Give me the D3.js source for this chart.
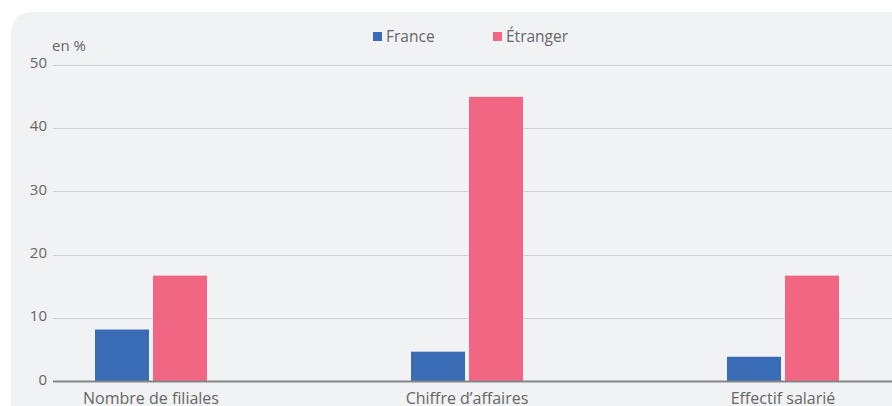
<!DOCTYPE html>
<html lang="fr">
<head>
<meta charset="UTF-8">
<title>Filiales France / Étranger</title>
<script src="https://cdn.jsdelivr.net/npm/d3@7/dist/d3.min.js"></script>
<style>
  body { margin: 0; background: #fff; }
  svg { display: block; font-family: "Open Sans", sans-serif; }
</style>
</head>
<body>
<script>
// données
const categories = ["Nombre de filiales", "Chiffre d\u2019affaires", "Effectif salarié"];
const series = ["France", "Étranger"];
const france = [8.2, 4.7, 3.9];
const etranger = [16.7, 44.9, 16.7];
const yTicks = [0, 10, 20, 30, 40, 50];
const colors = ["#3a6cb6", "#f16682"];

const width = 892, height = 406;
const textColor = "#666";
const svg = d3.select("body").append("svg")
    .attr("width", width)
    .attr("height", height);

// fond
svg.append("rect")
    .attr("x", 11).attr("y", 12)
    .attr("width", width + 40).attr("height", height + 40)
    .attr("rx", 20)
    .attr("fill", "#f1f2f4");

const y = d3.scaleLinear().domain([0, 50]).range([381.5, 64.5]);
const x = d3.scalePoint().domain(categories).range([151, 783]);
const barW = 54, gap = 4;

// grille
svg.append("g")
    .selectAll("line")
    .data(yTicks.filter(d => d > 0))
    .join("line")
    .attr("x1", 53).attr("x2", width)
    .attr("y1", d => Math.round(y(d)) + 0.5)
    .attr("y2", d => Math.round(y(d)) + 0.5)
    .attr("stroke", "#cfd0d3");

svg.append("g")
    .attr("fill", textColor)
    .attr("font-size", 15)
    .attr("text-anchor", "end")
    .selectAll("text")
    .data(yTicks)
    .join("text")
    .attr("x", 47)
    .attr("y", d => y(d))
    .attr("dy", "0.22em")
    .text(d => d);

svg.append("text")
    .attr("x", 52).attr("y", 51)
    .attr("fill", textColor)
    .attr("font-size", 15)
    .text("en %");

// barres
const values = [france, etranger];
series.forEach((s, i) => {
    svg.append("g")
        .attr("fill", colors[i])
        .selectAll("rect")
        .data(categories)
        .join("rect")
        .attr("x", d => i === 0 ? x(d) - gap / 2 - barW : x(d) + gap / 2)
        .attr("y", (d, j) => y(values[i][j]))
        .attr("width", barW)
        .attr("height", (d, j) => y(0) - y(values[i][j]));
});

// axe zéro
svg.append("line")
    .attr("x1", 53).attr("x2", width)
    .attr("y1", 381.5).attr("y2", 381.5)
    .attr("stroke", "#858585")
    .attr("stroke-width", 2);

svg.append("g")
    .attr("fill", textColor)
    .attr("font-size", 16)
    .attr("text-anchor", "middle")
    .selectAll("text")
    .data(categories)
    .join("text")
    .attr("x", d => x(d))
    .attr("y", 404)
    .text(d => d);

// légende
const legendX = [373, 493];
const leg = svg.append("g");
series.forEach((s, i) => {
    leg.append("rect")
        .attr("x", legendX[i]).attr("y", 32)
        .attr("width", 9).attr("height", 9)
        .attr("fill", colors[i]);
    leg.append("text")
        .attr("x", legendX[i] + 13).attr("y", 41.5)
        .attr("fill", textColor)
        .attr("font-size", 15.5)
        .text(s);
});
</script>
</body>
</html>
